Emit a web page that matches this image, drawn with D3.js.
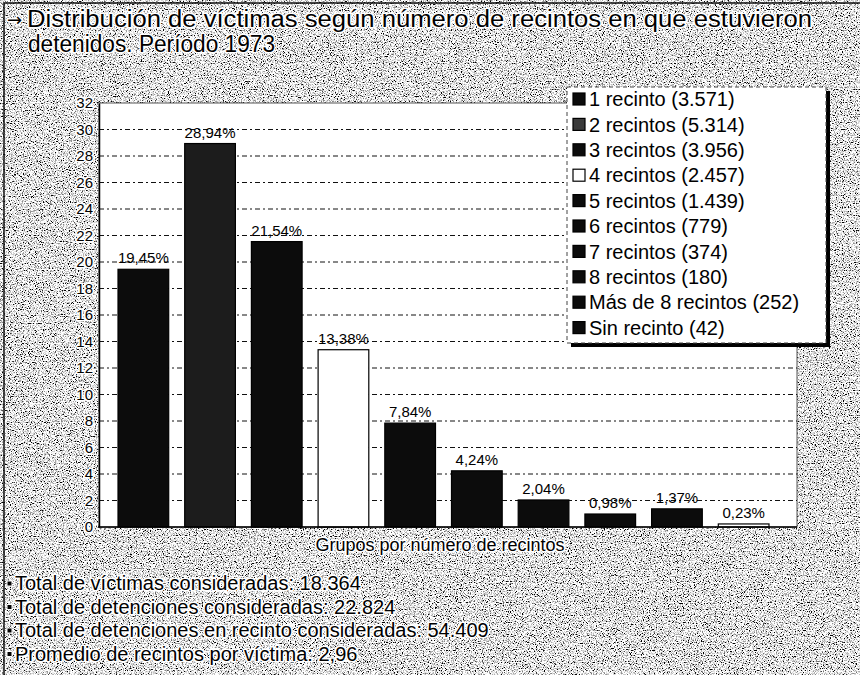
<html>
<head>
<meta charset="utf-8">
</head>
<body style="margin: 0 0 0 0;">
<svg id="world"></svg>
<script src="https://cdnjs.cloudflare.com/ajax/libs/d3/7.8.5/d3.min.js"></script>
<script type="text/javascript">

var categories = ["1 recinto", "2 recintos", "3 recintos", "4 recintos", "5 recintos",
                  "6 recintos", "7 recintos", "8 recintos", "Más de 8 recintos", "Sin recinto"]
var counts = [3571, 5314, 3956, 2457, 1439, 779, 374, 180, 252, 42]
var percents = [19.45, 28.94, 21.54, 13.38, 7.84, 4.24, 2.04, 0.98, 1.37, 0.23]
var barFill = ["#0c0c0c", "#1c1c1c", "#0c0c0c", "#ffffff", "#0c0c0c",
               "#0c0c0c", "#0c0c0c", "#0c0c0c", "#0c0c0c", "#ffffff"]
var legendFill = ["#0c0c0c", "#3a3a3a", "#0c0c0c", "#ffffff", "#0c0c0c",
                  "#0c0c0c", "#0c0c0c", "#0c0c0c", "#0c0c0c", "#0c0c0c"]
var yTicks = [0, 2, 4, 6, 8, 10, 12, 14, 16, 18, 20, 22, 24, 26, 28, 30, 32]
var titleLines = ["Distribución de víctimas según número de recintos en que estuvieron",
                  "detenidos. Período 1973"]
var axisTitle = "Grupos por número de recintos"
var footLines = ["Total de víctimas consideradas: 18.364",
                 "Total de detenciones consideradas: 22.824",
                 "Total de detenciones en recinto consideradas: 54.409",
                 "Promedio de recintos por víctima: 2,96"]

var W = 860, H = 675
var font = "'Liberation Sans', Arial, sans-serif"
var loc = d3.formatLocale({decimal: ",", thousands: ".", grouping: [3], currency: ["", ""]})
var fmtPct = loc.format(".2f")
var fmtInt = loc.format(",d")

var world = d3.select(document.getElementById("world"))
.attr("width", W)
.attr("height", H)
.style("display", "block")

// grainy gray paper
var defs = world.append("defs")
var f = defs.append("filter").attr("id", "grain")
.attr("x", 0).attr("y", 0).attr("width", "100%").attr("height", "100%")
f.append("feTurbulence")
.attr("type", "fractalNoise")
.attr("baseFrequency", 0.85)
.attr("numOctaves", 2)
.attr("seed", 7)
f.append("feColorMatrix")
.attr("type", "matrix")
.attr("values", "4 0 0 0 -1.2  4 0 0 0 -1.2  4 0 0 0 -1.2  0 0 0 0 1")

world.append("rect")
.attr("width", W).attr("height", H)
.attr("fill", "#b8b8b8")
world.append("rect")
.attr("width", W).attr("height", H)
.attr("filter", "url(#grain)")

world.append("path")
.attr("d", "M4," + H + "V3H" + W)
.attr("fill", "none")
.attr("stroke", "#111")
.attr("stroke-width", 1.5)

var halo = function(sel) {
  return sel.attr("stroke", "#fff")
  .attr("stroke-width", 3)
  .attr("stroke-linejoin", "round")
  .attr("paint-order", "stroke")
}

// title
var tx = [27, 28], tw = [785, 247]
world.append("text")
.attr("x", 7).attr("y", 26)
.attr("font-family", "'DejaVu Sans', sans-serif")
.attr("font-size", 18)
.text("\u2192")
.call(halo)
world.append("g").selectAll("text")
.data(titleLines)
.enter().append("text")
.attr("x", function(d, i) { return tx[i] })
.attr("y", function(d, i) { return 27 + i * 25 })
.attr("textLength", function(d, i) { return tw[i] })
.attr("lengthAdjust", "spacingAndGlyphs")
.attr("font-family", font)
.attr("font-size", 23)
.attr("fill", "#000")
.text(function(d) { return d })
.call(halo)

// plot
var x = d3.scaleBand()
.domain(categories)
.range([110, 777])
.paddingInner(0.24)
.paddingOuter(0.12)

var y = d3.scaleLinear()
.domain([0, 32])
.range([527, 103])

var plot = world.append("g")

plot.append("rect")
.attr("x", 99).attr("y", y(32))
.attr("width", 797 - 99).attr("height", y(0) - y(32))
.attr("fill", "#fff")
.attr("stroke", "#555")
.attr("stroke-width", 1)

plot.selectAll("line.grid")
.data(yTicks.filter(function(t) { return t > 0 && t < 32 }))
.enter().append("line")
.attr("class", "grid")
.attr("x1", 99).attr("x2", 797)
.attr("y1", function(d) { return y(d) }).attr("y2", function(d) { return y(d) })
.attr("stroke", "#111")
.attr("stroke-width", 1)
.attr("stroke-dasharray", "5,3,2,3")

plot.selectAll("rect.bar")
.data(percents)
.enter().append("rect")
.attr("class", "bar")
.attr("x", function(d, i) { return x(categories[i]) })
.attr("width", x.bandwidth())
.attr("y", function(d) { return y(d) })
.attr("height", function(d) { return y(0) - y(d) })
.attr("fill", function(d, i) { return barFill[i] })
.attr("stroke", "#000")
.attr("stroke-width", 1.2)

plot.selectAll("text.val")
.data(percents)
.enter().append("text")
.attr("class", "val")
.attr("x", function(d, i) { return x(categories[i]) + x.bandwidth() / 2 })
.attr("y", function(d) { return y(d) - 6 })
.attr("text-anchor", "middle")
.attr("font-family", font)
.attr("font-size", 15)
.text(function(d) { return fmtPct(d) + "%" })

var yAxis = plot.append("g")
.attr("transform", "translate(99,0)")
.call(d3.axisLeft(y).tickValues(yTicks).tickSize(0).tickPadding(6))
yAxis.select(".domain").attr("stroke", "#000").attr("stroke-width", 1.5)
yAxis.selectAll("text")
.attr("font-family", font)
.attr("font-size", 15)
.attr("fill", "#000")
.call(halo)

plot.append("line")
.attr("x1", 98).attr("x2", 797)
.attr("y1", y(0)).attr("y2", y(0))
.attr("stroke", "#000")
.attr("stroke-width", 1.5)

world.append("text")
.attr("x", 440)
.attr("y", 551)
.attr("text-anchor", "middle")
.attr("font-family", font)
.attr("font-size", 18)
.text(axisTitle)
.call(halo)

// legend
var lg = world.append("g").attr("transform", "translate(567,87)")
lg.append("rect")
.attr("x", 4).attr("y", 4).attr("width", 259).attr("height", 256)
.attr("fill", "#000")
lg.append("rect")
.attr("width", 259).attr("height", 256)
.attr("fill", "#fff")
.attr("stroke", "#444")
.attr("stroke-width", 1)
.attr("stroke-dasharray", "4,3")

var item = lg.selectAll("g.item")
.data(categories)
.enter().append("g")
.attr("class", "item")
.attr("transform", function(d, i) { return "translate(0," + (12 + i * 25.4) + ")" })
item.append("rect")
.attr("x", 6).attr("y", -6).attr("width", 12).attr("height", 12)
.attr("fill", function(d, i) { return legendFill[i] })
.attr("stroke", "#000")
.attr("stroke-width", 1.2)
item.append("text")
.attr("x", 22)
.attr("dy", "0.36em")
.attr("font-family", font)
.attr("font-size", 20)
.text(function(d, i) { return d + " (" + fmtInt(counts[i]) + ")" })

// footer notes
var foot = world.append("g").selectAll("g")
.data(footLines)
.enter().append("g")
.attr("transform", function(d, i) { return "translate(0," + (590 + i * 23.5) + ")" })
foot.append("rect")
.attr("x", 7).attr("y", -9).attr("width", 5).attr("height", 5)
.attr("fill", "#000")
.attr("stroke", "#fff")
.attr("stroke-width", 1)
foot.append("text")
.attr("x", 15)
.attr("font-family", font)
.attr("font-size", 20)
.text(function(d) { return d })
.call(halo)

</script>
</body>
</html>
